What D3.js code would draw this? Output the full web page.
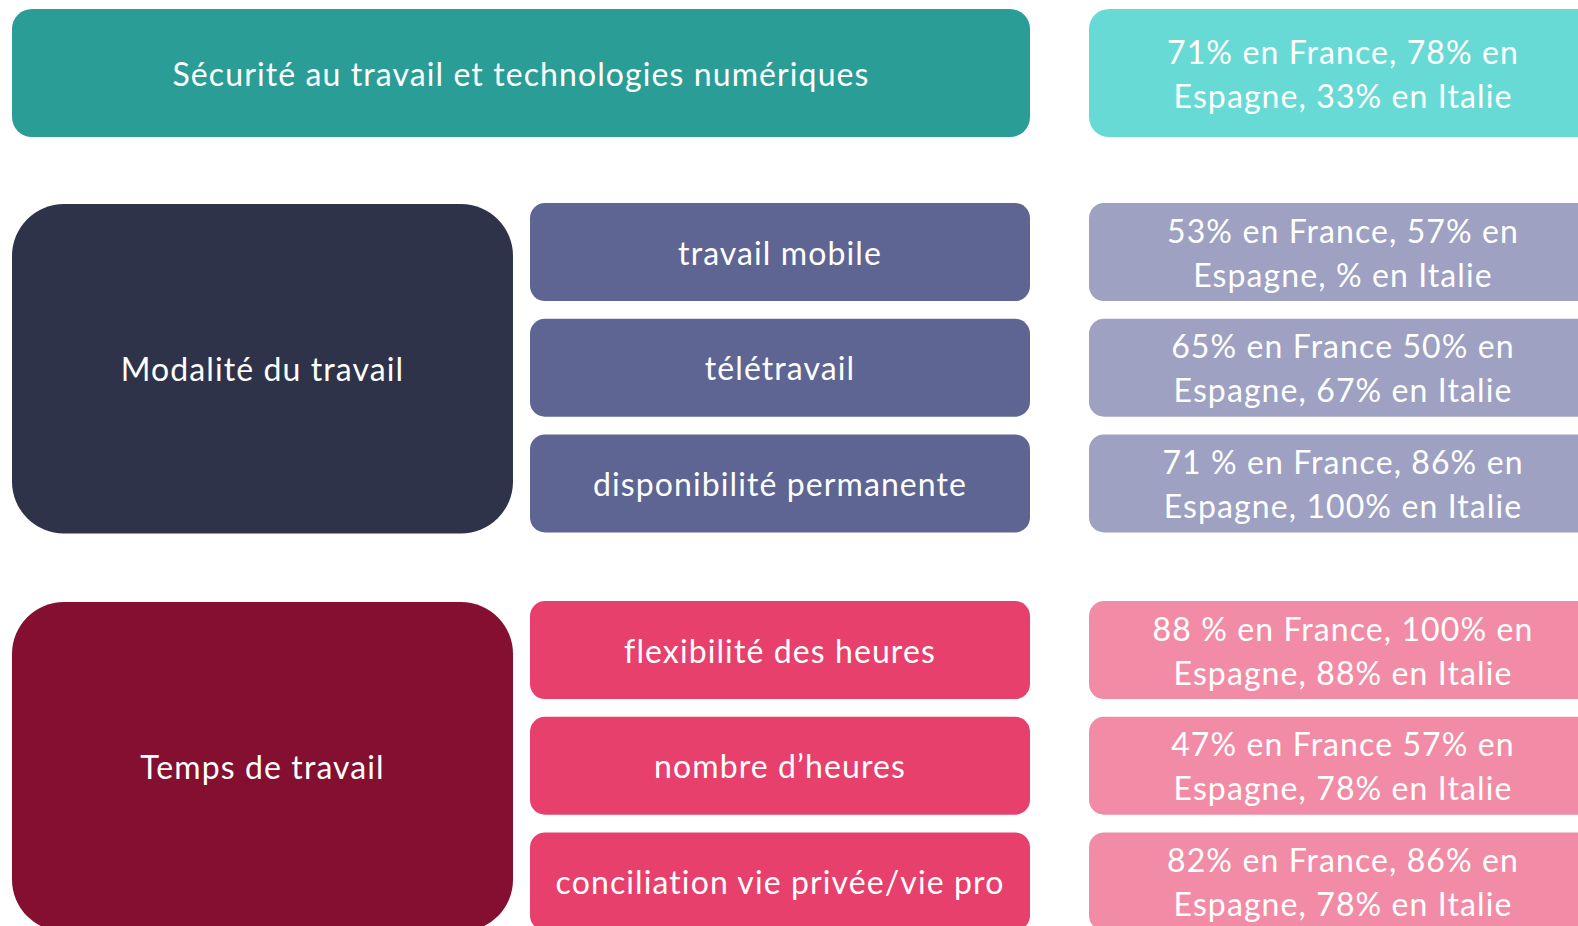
<!DOCTYPE html>
<html>
<head>
<meta charset="utf-8">
<script src="https://cdn.jsdelivr.net/npm/d3@7"></script>
<style>
  html, body { margin: 0; padding: 0; background: #ffffff; overflow: hidden; }
  svg { display: block; }
  text { font-family: Lato, "Open Sans", sans-serif; fill: #ffffff; }
</style>
</head>
<body>
<svg id="chart" width="1578" height="926"></svg>
<script>
// ---- data ----
const headline = "Sécurité au travail et technologies numériques";
const headlineResult = ["71% en France, 78% en", "Espagne, 33% en Italie"];

const groups = ["Modalité du travail", "Temps de travail"];

const modaliteItems = ["travail mobile", "télétravail", "disponibilité permanente"];
const modaliteResults = [
  ["53% en France, 57% en", "Espagne, % en Italie"],
  ["65% en France 50% en", "Espagne, 67% en Italie"],
  ["71 % en France, 86% en", "Espagne, 100% en Italie"]
];

const tempsItems = ["flexibilité des heures", "nombre d’heures", "conciliation vie privée/vie pro"];
const tempsResults = [
  ["88 % en France, 100% en", "Espagne, 88% en Italie"],
  ["47% en France 57% en", "Espagne, 78% en Italie"],
  ["82% en France, 86% en", "Espagne, 78% en Italie"]
];

const palettes = [
  { group: "#2E3349", item: "#5E6593", result: "#9EA1C2" },
  { group: "#850F30", item: "#E8406C", result: "#F28CA6" }
];
const headlineColors = { main: "#2A9D97", result: "#68DAD5" };

// ---- layout ----
const svg = d3.select("#chart");
const fontSize = 32;
const letterSpacing = 1.1;
const lineGap = 44;

const xCol = d3.scaleOrdinal()
  .domain(["group", "item", "result"])
  .range([12, 530, 1089]);
const colW = { group: 501, item: 500, result: 508 };

function box(g, x, y, w, h, r, fill) {
  g.append("rect").attr("x", x).attr("y", y).attr("width", w).attr("height", h)
    .attr("rx", r).attr("ry", r).attr("fill", fill);
}
function label(g, cx, cy, lines) {
  const n = lines.length;
  lines.forEach((t, i) => {
    g.append("text")
      .attr("x", cx)
      .attr("y", cy + (i - (n - 1) / 2) * lineGap)
      .attr("text-anchor", "middle")
      .attr("dominant-baseline", "central")
      .style("font-size", fontSize + "px")
      .style("letter-spacing", letterSpacing + "px")
      .text(t);
  });
}

// Headline row
const h0 = svg.append("g");
const hTop = 9, hH = 128;
box(h0, xCol("group"), hTop, xCol("item") + colW.item - xCol("group"), hH, 20, headlineColors.main);
label(h0, (xCol("group") + xCol("item") + colW.item) / 2, hTop + hH / 2, [headline]);
box(h0, xCol("result"), hTop, colW.result, hH, 20, headlineColors.result);
label(h0, xCol("result") + colW.result / 2, hTop + hH / 2, headlineResult);

// Groups
const groupTops = [203, 601];
const groupItems = [modaliteItems, tempsItems];
const groupResults = [modaliteResults, tempsResults];
const groupSpan = 329.5;

groups.forEach((name, gi) => {
  const g = svg.append("g");
  const top = groupTops[gi];
  const pal = palettes[gi];
  const y = d3.scaleBand()
    .domain(groupItems[gi])
    .range([top, top + groupSpan])
    .paddingInner(0.153)
    .paddingOuter(0);

  box(g, xCol("group"), top + 1, colW.group, groupSpan, 52, pal.group);
  label(g, xCol("group") + colW.group / 2, top + 1 + groupSpan / 2, [name]);

  groupItems[gi].forEach((it, i) => {
    const yy = y(it), bh = y.bandwidth();
    box(g, xCol("item"), yy, colW.item, bh, 15, pal.item);
    label(g, xCol("item") + colW.item / 2, yy + bh / 2, [it]);
    box(g, xCol("result"), yy, colW.result, bh, 15, pal.result);
    label(g, xCol("result") + colW.result / 2, yy + bh / 2, groupResults[gi][i]);
  });
});
</script>
</body>
</html>
